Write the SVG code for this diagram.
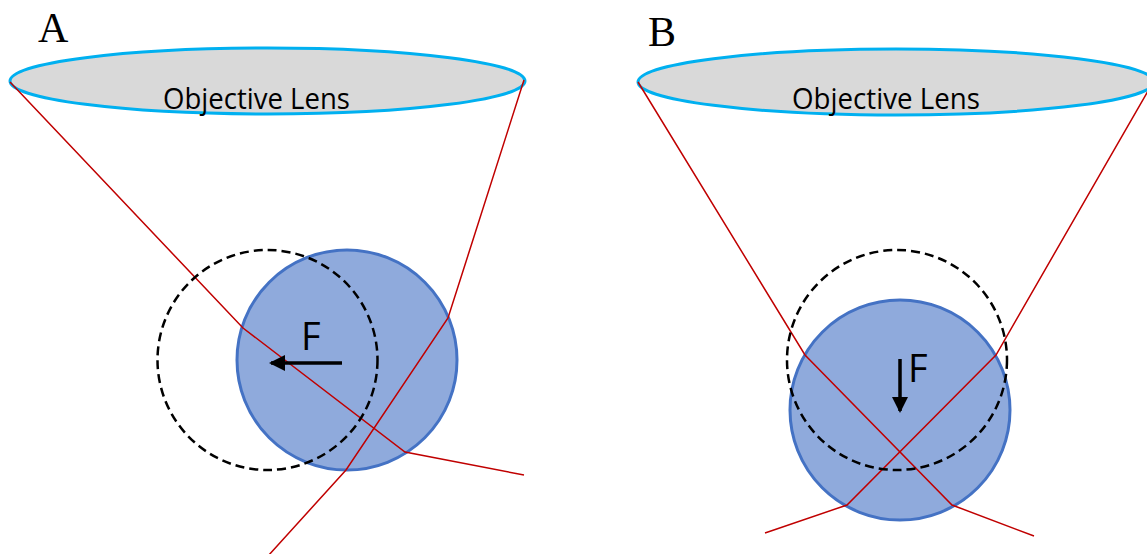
<svg xmlns="http://www.w3.org/2000/svg" width="1147" height="554" viewBox="0 0 1147 554">
<style>
.lens{fill:#d9d9d9;stroke:#00b0f0;stroke-width:3}
.bead{fill:#8faadc;stroke:#4472c4;stroke-width:3}
.ghost{fill:none;stroke:#000;stroke-width:2.5;stroke-dasharray:9 5}
.ray{fill:none;stroke:#c00000;stroke-width:1.5}
.force{stroke:#000;stroke-width:3.5;fill:none}
.lt{font-family:"Open Sans","Liberation Sans",sans-serif;font-size:29px;fill:#000}
.ft{font-family:"Open Sans","Liberation Sans",sans-serif;font-size:38px;fill:#000}
.pt{font-family:"Liberation Serif","Times New Roman",serif;font-size:42px;fill:#000}
</style>
<defs>
<marker id="ah" markerUnits="userSpaceOnUse" markerWidth="16" markerHeight="16" viewBox="0 0 16 16" refX="14" refY="8" orient="auto">
<path d="M0,0 L16,8 L0,16 Z" fill="#000"/>
</marker>
</defs>
<g id="panelA">
<text class="pt" x="38" y="42">A</text>
<g id="lensA"><ellipse class="lens" cx="267.5" cy="81" rx="257.5" ry="33"/><text class="lt" x="163" y="109" textLength="187" lengthAdjust="spacingAndGlyphs">Objective Lens</text></g>
<g id="beadA"><circle class="bead" cx="347" cy="360" r="110"/></g>
</g>
<g id="panelB">
<text class="pt" x="648" y="46">B</text>
<g id="lensB"><ellipse class="lens" cx="896" cy="82" rx="258" ry="33"/><text class="lt" x="792" y="109" textLength="188" lengthAdjust="spacingAndGlyphs">Objective Lens</text></g>
<g id="beadB"><circle class="bead" cx="900" cy="410" r="110"/></g>
</g>
<g id="connectors">
<polyline class="ray" points="10,82 243,328 405,452 524,475"/>
<polyline class="ray" points="524,80 448,318 346,470 268,556"/>
<polyline class="ray" points="638,82 805,355 952,505 1034,536"/>
<polyline class="ray" points="1152,84 996,355 847,505 765,533"/>
</g>
<g id="ghostA"><circle class="ghost" cx="267.5" cy="360" r="110"/></g>
<g id="ghostB"><circle class="ghost" cx="897" cy="360" r="110"/></g>
<g id="forceA"><line class="force" x1="342" y1="363" x2="271" y2="363" marker-end="url(#ah)"/><text class="ft" x="301" y="350">F</text></g>
<g id="forceB"><line class="force" x1="900" y1="359" x2="900" y2="411" marker-end="url(#ah)"/><text class="ft" x="908" y="382">F</text></g>
</svg>
